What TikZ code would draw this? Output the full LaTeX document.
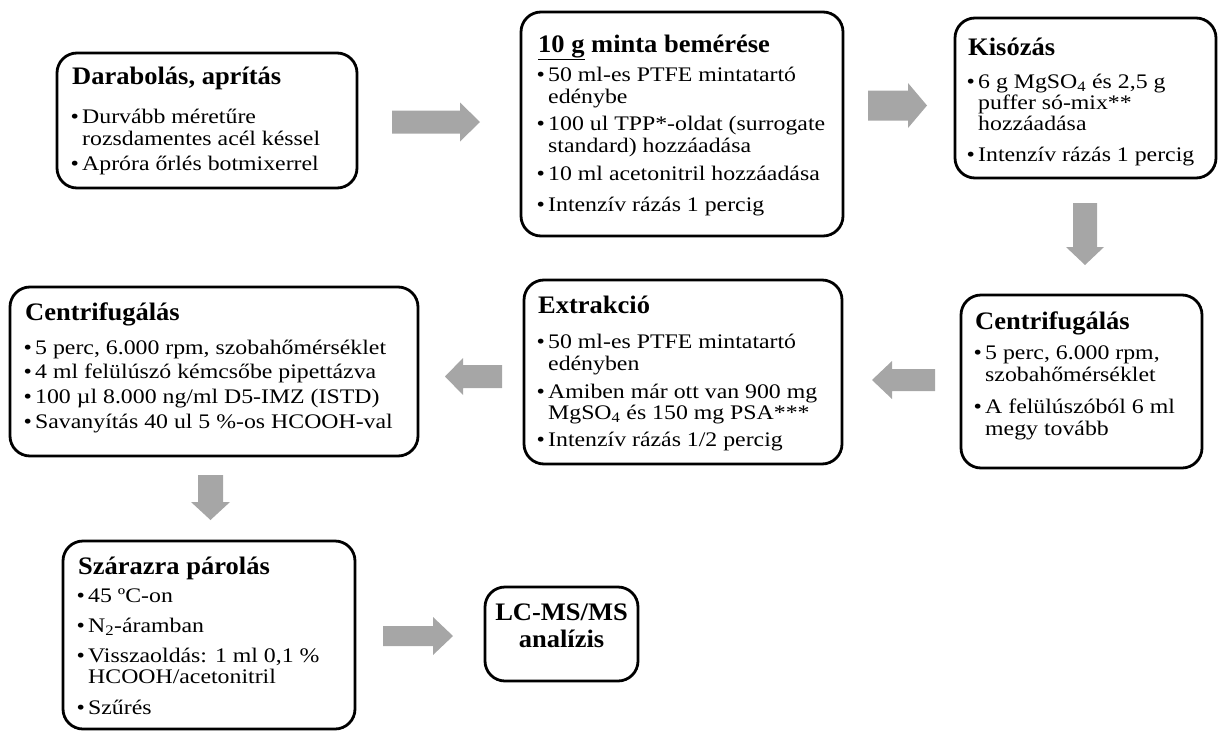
\documentclass[tikz,border=0pt]{standalone}
\usepackage{fontspec}
\usepackage{graphicx}
\setmainfont{Liberation Serif}
\usetikzlibrary{fit}
\definecolor{arrowgray}{RGB}{166,166,166}
\newcommand\rarr[6]{\fill[blk] (#1,#4-#5) -- (#2,#4-#5) -- (#2,#4-#6) -- (#3,#4) -- (#2,#4+#6) -- (#2,#4+#5) -- (#1,#4+#5) -- cycle;}
\newcommand\darr[6]{\fill[blk] (#1-#5,#2) -- (#1-#5,#3) -- (#1-#6,#3) -- (#1,#4) -- (#1+#6,#3) -- (#1+#5,#3) -- (#1+#5,#2) -- cycle;}
\newcommand\bul{\makebox[10pt][l]{\hspace{-1.5pt}•}}
\newcommand\TT[4]{\node[ttl] (#1) at (#2,#3) {\scalebox{1}[0.95]{#4}};}
\newcommand\BB[4]{\node[bod] (#1) at (#2,#3) {\scalebox{1}[0.87]{#4}};}
\newcommand\II[4]{\node[bod] (#1) at (#2,#3) {\scalebox{1}[0.87]{\bul #4}};}
\begin{document}
\begin{tikzpicture}[x=1pt,y=-1pt,
  box/.style={draw=black, line width=2.8pt, rounded corners=20pt, inner sep=0pt},
  blk/.style={fill=arrowgray, draw=none},
  ttl/.style={anchor=base west, inner sep=0pt, font=\fontsize{26.5}{28}\selectfont\bfseries},
  bod/.style={anchor=base west, inner sep=0pt, font=\fontsize{23.8}{24}\selectfont}]
\useasboundingbox (0,0) rectangle (1218,731);

% boxes
\node[box, fit={(57,53) (357,188)}] (b1) {};
\node[box, fit={(521,12) (843,236)}] (b2) {};
\node[box, fit={(955,18) (1216,178)}] (b3) {};
\node[box, fit={(961,295) (1202,468)}] (b4) {};
\node[box, fit={(524,280) (842,464)}] (b5) {};
\node[box, fit={(10,287) (418,456)}] (b6) {};
\node[box, fit={(63,541) (355,729)}] (b7) {};
\node[box, fit={(485,587) (638,681)}] (b8) {};

% block arrows
\rarr{392}{460}{480}{122}{11.5}{19.5}
\rarr{868}{908}{927}{105.5}{15}{22.5}
\darr{1085}{203}{247}{265}{12}{19}
\rarr{935}{892}{872}{380}{11}{19}
\rarr{502}{463}{445}{376.5}{11.5}{18.5}
\darr{210.5}{475}{502}{520}{12.5}{19.5}
\rarr{383}{433}{453}{636}{10}{19}

% box 1
\TT{t1}{72}{84}{Darabolás, aprítás}
\II{t1a}{72}{123}{Durvább méretűre}
\BB{t1b}{82}{145}{rozsdamentes acél késsel}
\II{t1c}{72}{170}{Apróra őrlés botmixerrel}

% box 2
\TT{t2}{538}{52}{\underline{10 g} minta bemérése}
\II{t2a}{538}{81}{50 ml-es PTFE mintatartó}
\BB{t2b}{548}{103}{edénybe}
\II{t2c}{538}{130}{100 ul TPP*-oldat (surrogate}
\BB{t2d}{548}{152}{standard) hozzáadása}
\II{t2e}{538}{180}{10 ml acetonitril hozzáadása}
\II{t2f}{538}{211}{Intenzív rázás 1 percig}

% box 3
\TT{t3}{968}{55}{Kisózás}
\II{t3a}{968}{88}{6 g MgSO\textsubscript{4} és 2,5 g}
\BB{t3b}{978}{109}{puffer só-mix**}
\BB{t3c}{978}{130}{hozzáadása}
\II{t3d}{968}{161}{Intenzív rázás 1 percig}

% box 4
\TT{t4}{975}{329}{Centrifugálás}
\II{t4a}{975}{359}{5 perc, 6.000 rpm,}
\BB{t4b}{985}{381}{szobahőmérséklet}
\II{t4c}{975}{413}{A felülúszóból 6 ml}
\BB{t4d}{985}{435}{megy tovább}

% box 5
\TT{t5}{538}{313}{Extrakció}
\II{t5a}{538}{348}{50 ml-es PTFE mintatartó}
\BB{t5b}{548}{370}{edényben}
\II{t5c}{538}{398}{Amiben már ott van 900 mg}
\BB{t5d}{548}{419}{MgSO\textsubscript{4} és 150 mg PSA***}
\II{t5e}{538}{446}{Intenzív rázás 1/2 percig}

% box 6
\TT{t6}{25}{320}{Centrifugálás}
\II{t6a}{25}{354}{5 perc, 6.000 rpm, szobahőmérséklet}
\II{t6b}{25}{378}{4 ml felülúszó kémcsőbe pipettázva}
\II{t6c}{25}{403}{100 µl 8.000 ng/ml D5-IMZ (ISTD)}
\II{t6d}{25}{428}{Savanyítás 40 ul 5 \%-os HCOOH-val}

% box 7
\TT{t7}{78}{574}{Szárazra párolás}
\II{t7a}{78}{602}{45 ºC-on}
\II{t7b}{78}{632}{N\textsubscript{2}-áramban}
\II{t7c}{78}{662}{Visszaoldás: 1 ml 0,1 \%}
\BB{t7d}{88}{683}{HCOOH/acetonitril}
\II{t7e}{78}{714}{Szűrés}

% box 8
\node[ttl, anchor=base] (t8a) at (561.5,620) {\scalebox{1}[0.95]{LC-MS/MS}};
\node[ttl, anchor=base] (t8b) at (561.5,647) {\scalebox{1}[0.95]{analízis}};
\end{tikzpicture}
\end{document}
